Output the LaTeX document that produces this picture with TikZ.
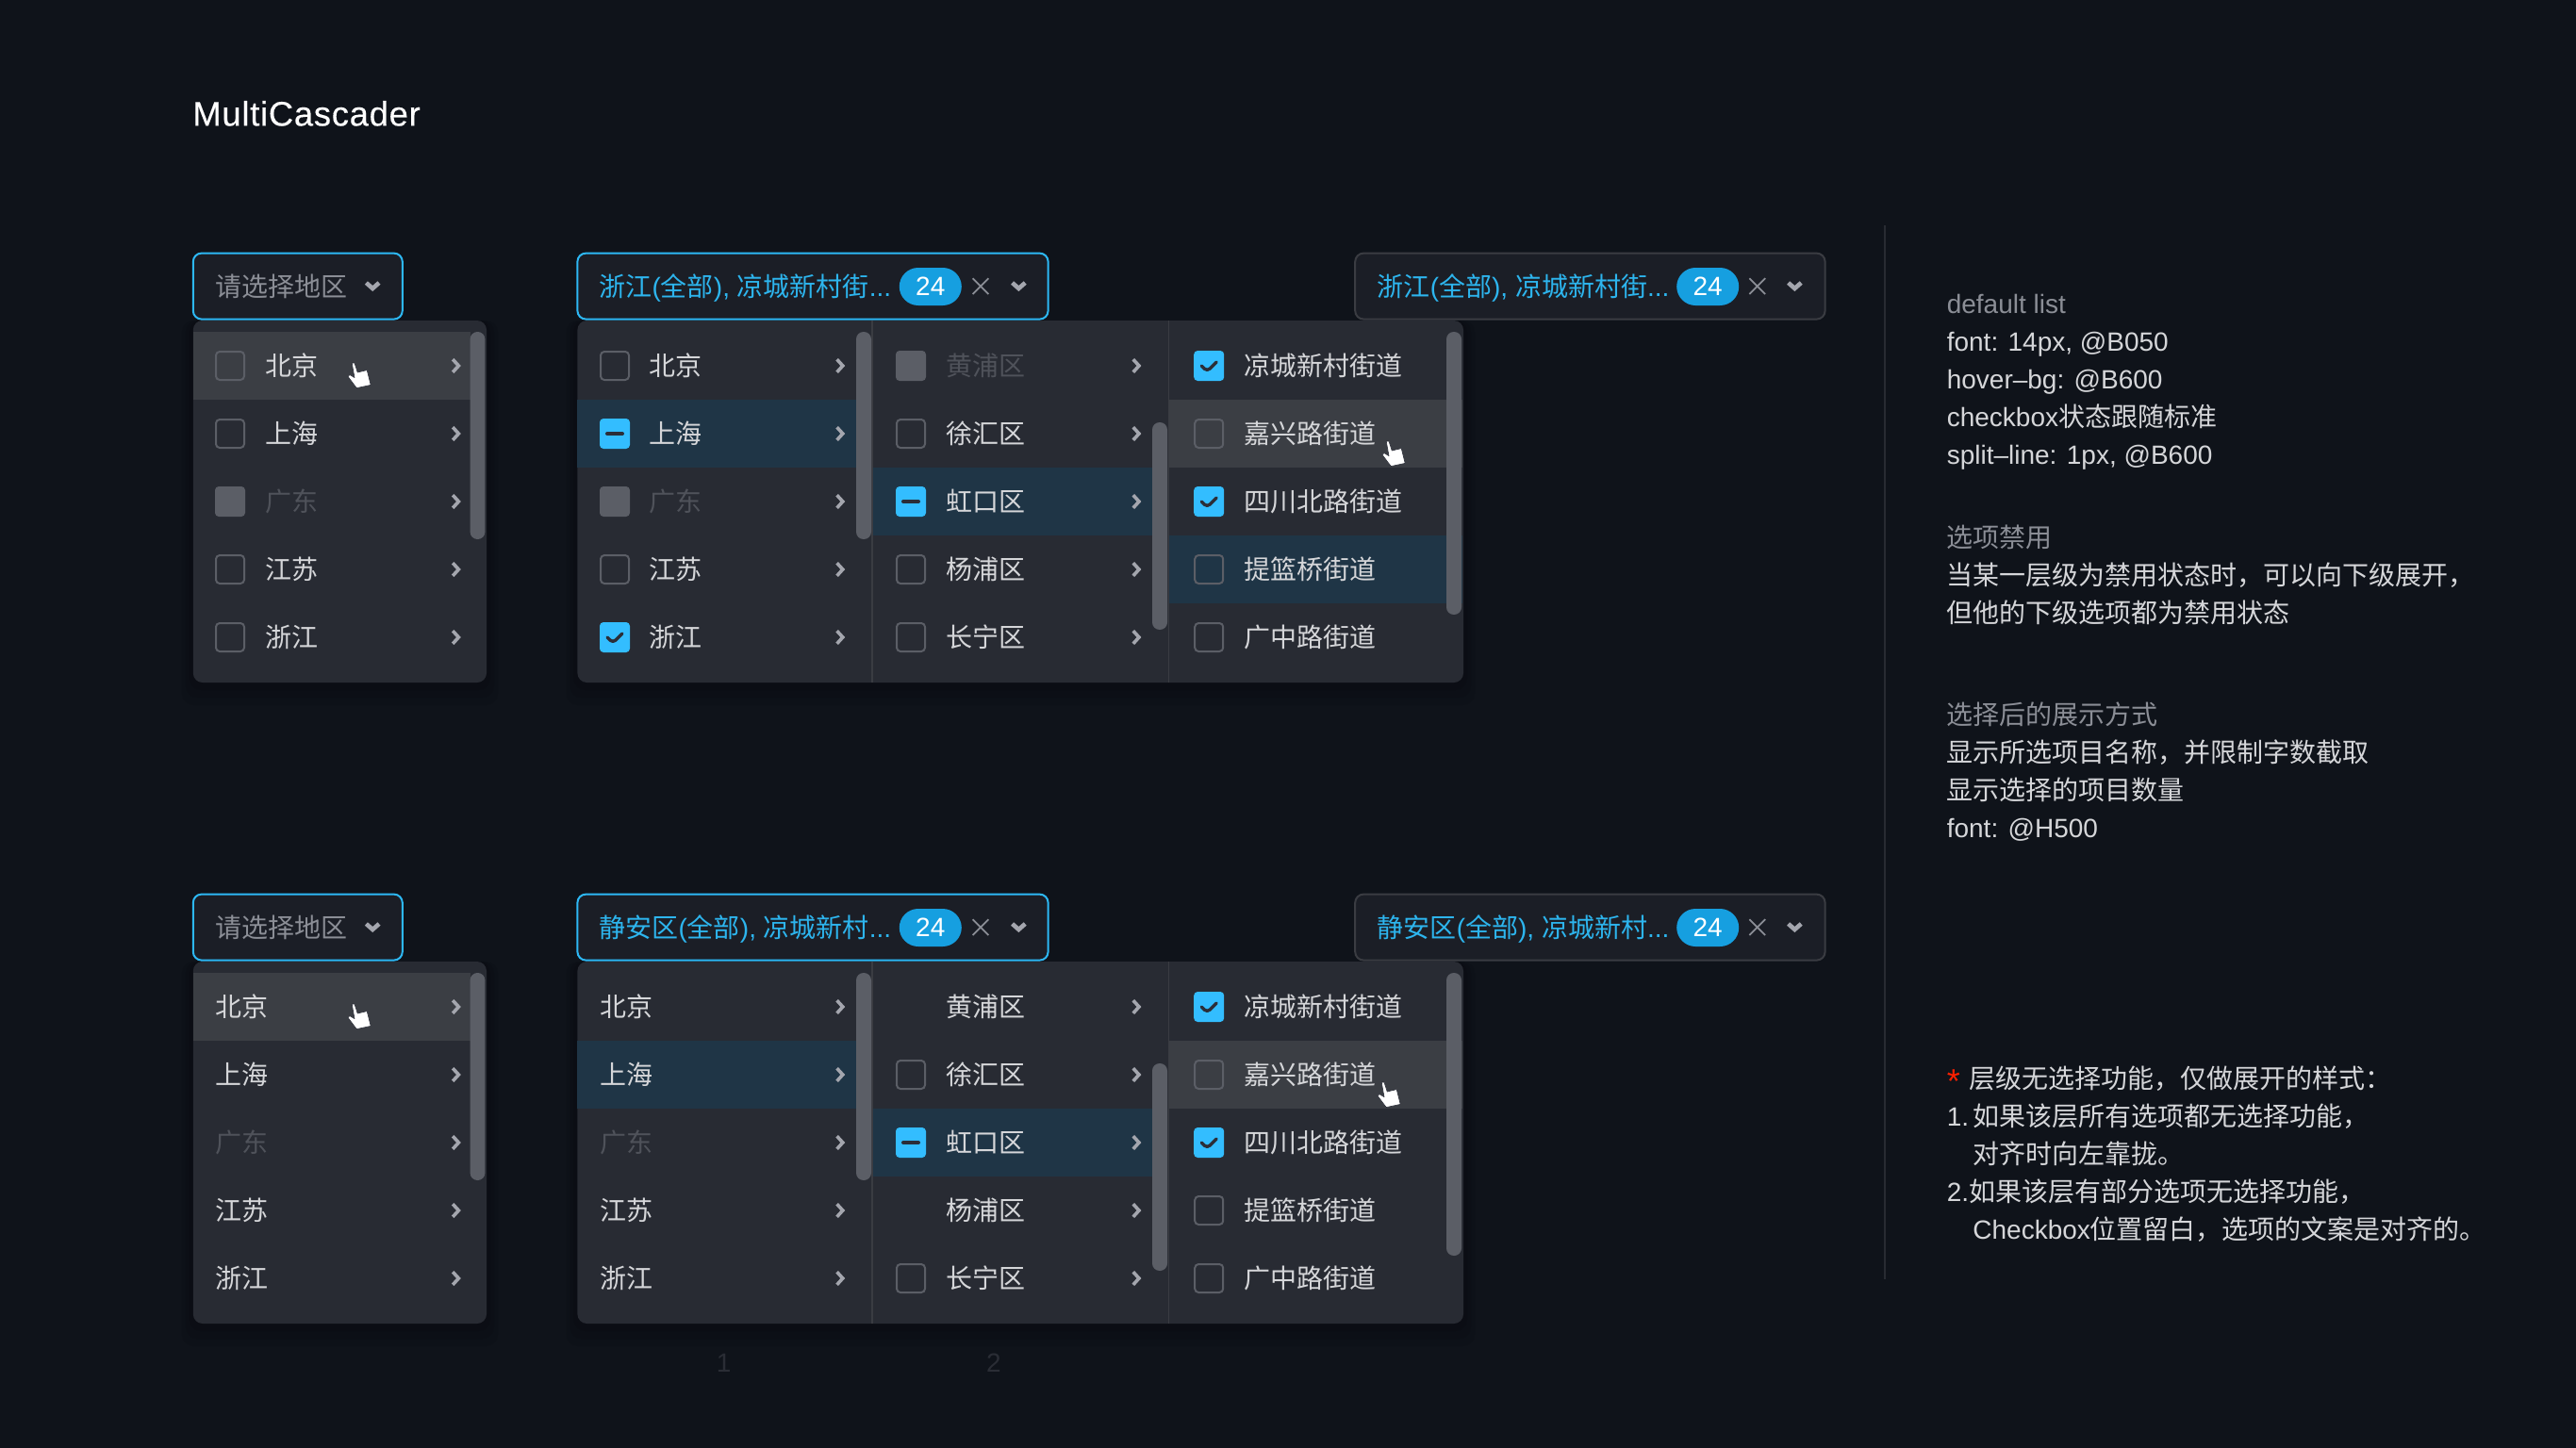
\documentclass[tikz,border=0pt]{standalone}
\usepackage{fontspec}
\setmainfont{Liberation Sans}
\newfontfamily\cjk{Noto Sans CJK SC}
\newfontfamily\titlefont{Liberation Sans}[LetterSpace=2,FakeBold=0.25]
\newcommand{\zh}[1]{{\cjk #1}}
\definecolor{pagebg}{HTML}{0F131A}
\definecolor{panelbg}{HTML}{282B33}
\definecolor{hoverbg}{HTML}{3B3E44}
\definecolor{activebg}{HTML}{1F3546}
\definecolor{selbg}{HTML}{1B1E26}
\definecolor{selblue}{HTML}{2DB8F5}
\definecolor{selgray}{HTML}{3A3C42}
\definecolor{chkblue}{HTML}{33BDFF}
\definecolor{badgeblue}{HTML}{169FE0}
\definecolor{chkline}{HTML}{5B5E66}
\definecolor{chevcol}{HTML}{A4A6AE}
\definecolor{txtcol}{HTML}{D5D6D9}
\definecolor{discol}{HTML}{4F525A}
\definecolor{graycol}{HTML}{8B8E96}
\definecolor{bluetxt}{HTML}{2DB5EE}
\definecolor{tickcol}{HTML}{2B2E38}
\definecolor{digitcol}{HTML}{2A2D35}
\tikzset{
  fs/.style={font=\fontsize{14}{20}\selectfont},
  optlabel/.style={fs,anchor=base west,inner sep=0pt,text=txtcol},
  optdis/.style={optlabel,text=discol},
  notetext/.style={optlabel},
  notehead/.style={optlabel,text=graycol},
  chkbase/.style={rectangle,rounded corners=2pt,minimum size=15pt,inner sep=0pt,outer sep=0pt},
  chkoff/.style={chkbase,draw=chkline,line width=1pt},
  chkdis/.style={chkbase,minimum size=16pt,fill=chkline},
  chkon/.style={chkbase,minimum size=16pt,fill=chkblue,path picture={
    \draw[tickcol,line width=1.7pt,line cap=round,line join=round]
      (path picture bounding box.center) ++(-4,0) -- ++(3,3) -- ++(5,-5);}},
  chkhalf/.style={chkbase,minimum size=16pt,fill=chkblue,path picture={
    \draw[tickcol,line width=2pt,line cap=round]
      (path picture bounding box.center) ++(-4,0) -- ++(8,0);}},
  selbox/.style={rectangle,rounded corners=4.5pt,anchor=north west,minimum height=35pt,
    inner sep=0pt,outer sep=0pt,fill=selbg,line width=1pt},
  badge/.style={rectangle,rounded corners=10pt,fill=badgeblue,text=white,fs,minimum width=33pt,
    minimum height=20pt,inner sep=0pt},
  seltext/.style={optlabel,text=bluetxt},
  scrollbar/.style={chkline,rounded corners=3.9pt},
  splitline/.style={draw=selgray,line width=.6pt},
  chevr/.pic={\draw[chevcol,line width=1.8pt,line join=miter] (-1.5,-3.4) -- (1.6,0) -- (-1.5,3.4);},
  chevd/.pic={\draw[chevcol,line width=2.3pt] (-3.4,-1.5) -- (0,1.5) -- (3.4,-1.5);},
  crossx/.pic={\draw[graycol,line width=.9pt] (-4.2,-4.2) -- (4.2,4.2) (-4.2,4.2) -- (4.2,-4.2);},
  handptr/.pic={\filldraw[white,draw=tickcol,line width=.3pt,line join=round]
    (-.7,0) -- (.7,0) -- (2.3,5) -- (7.3,3.8) -- (9.3,11.7) -- (1.8,13.3) -- (-2.8,7.2) -- (-1.8,6.3) -- (.7,7.8) -- cycle;}
}

\begin{document}
\begin{tikzpicture}[x=1pt,y=-1pt]
\useasboundingbox (0,0) rectangle (1366,768);
\fill[pagebg] (0,0) rectangle (1366,768);

\node[anchor=base west,inner sep=0pt,text=white,font=\fontsize{18.2}{20}\titlefont] (title) at (102,66.7) {MultiCascader};
\draw[selgray,line width=.8pt,opacity=.6] (999.6,119.5) -- (999.6,678.3);

% both groups share the same frame
\foreach \oy/\tag in {0/up,340/low}{
\begin{scope}[yshift=-\oy pt]
  \foreach \bx/\bw in {102.4/155.6,306.2/469.8}{
    \foreach \gr in {6,4,2}
      \fill[black,opacity=.07,rounded corners=6pt] (\bx-\gr,170) rectangle (\bx+\bw+\gr,362+2*\gr);
    \fill[panelbg,rounded corners=5pt] (\bx,170) rectangle (\bx+\bw,362);
  }
  \fill[hoverbg] (102.4,176) rectangle (249.5,212);
  \fill[activebg] (306.2,212) rectangle (454,248);
  \fill[activebg] (462.5,248) rectangle (611,284);
  \fill[hoverbg] (620,212) rectangle (775.5,248);
  \draw[splitline] (462.5,170) -- (462.5,362);
  \draw[splitline] (619.7,170) -- (619.7,362);
  \fill[scrollbar] (249.3,176) rectangle (257.2,286);
  \fill[scrollbar] (454,176) rectangle (462,286);
  \fill[scrollbar] (611,224) rectangle (619,334);
  \foreach \cy in {194,230,266,302,338}{
    \pic at (241.6,\cy) {chevr};
    \pic at (445.3,\cy) {chevr};
    \pic at (602.4,\cy) {chevr};
  }
  % selects
  \node[selbox,draw=selblue,minimum width=111pt] (sel\tag a) at (102.4,134.3) {};
  \node[selbox,draw=selblue,minimum width=249.6pt] (sel\tag b) at (306.2,134.3) {};
  \node[selbox,draw=selgray,minimum width=249.2pt] (sel\tag c) at (718.6,134.3) {};
  \node[optlabel,text=graycol] (ph\tag) at (113.9,157.1) {\zh{请选择地区}};
  \pic at (197.6,151.5) {chevd};
  \node[badge] (badge\tag b) at (493.4,152) {24};
  \node[badge] (badge\tag c) at (905.6,152) {24};
  \pic at (520,151.8) {crossx};
  \pic at (540.2,151.5) {chevd};
  \pic at (931.9,151.8) {crossx};
  \pic at (951.7,151.5) {chevd};
  \pic at (187.3,192.5) {handptr};
\end{scope}
}

% rows that differ
\fill[activebg] (620,284) rectangle (775.5,320);
\fill[scrollbar] (767,176) rectangle (775,326);
\fill[scrollbar] (767,516) rectangle (775,666);
\pic at (735.8,234) {handptr};
\pic at (733.3,574) {handptr};

\node[seltext] (seltxta) at (317.6,157.1) {\zh{浙江}(\zh{全部}), \zh{凉城新村街}...};
\node[seltext] (seltxtb) at (730.2,157.1) {\zh{浙江}(\zh{全部}), \zh{凉城新村街}...};
\node[seltext] (seltxtc) at (317.6,497.1) {\zh{静安区}(\zh{全部}), \zh{凉城新村}...};
\node[seltext] (seltxtd) at (730.2,497.1) {\zh{静安区}(\zh{全部}), \zh{凉城新村}...};

% check boxes, first group and last column below
\foreach \nm/\cy/\kind in {1/194/chkoff,2/230/chkoff,3/266/chkdis,4/302/chkoff,5/338/chkoff}
  \node[\kind] (pa\nm) at (122,\cy) {};
\foreach \nm/\cy/\kind in {1/194/chkoff,2/230/chkhalf,3/266/chkdis,4/302/chkoff,5/338/chkon}
  \node[\kind] (pb\nm) at (326,\cy) {};
\foreach \nm/\cy/\kind in {1/194/chkdis,2/230/chkoff,3/266/chkhalf,4/302/chkoff,5/338/chkoff}
  \node[\kind] (pc\nm) at (483,\cy) {};
\foreach \nm/\cy/\kind in {1/194/chkon,2/230/chkoff,3/266/chkon,4/302/chkoff,5/338/chkoff}
  \node[\kind] (pd\nm) at (641.1,\cy) {};
\foreach \nm/\cy/\kind in {2/570/chkoff,3/606/chkhalf,5/678/chkoff}
  \node[\kind] (qc\nm) at (483,\cy) {};
\foreach \nm/\cy/\kind in {1/534/chkon,2/570/chkoff,3/606/chkon,4/642/chkoff,5/678/chkoff}
  \node[\kind] (qd\nm) at (641.1,\cy) {};

% labels
\foreach \xx/\pre in {140.3/la,344.1/lb}
  \foreach \nm/\cy/\lab/\sty in {1/194/北京/optlabel,2/230/上海/optlabel,3/266/广东/optdis,4/302/江苏/optlabel,5/338/浙江/optlabel}
    \node[\sty] (\pre\nm) at (\xx,\cy+5.2) {\zh{\lab}};
\foreach \xx/\pre in {113.9/ma,318/mb}
  \foreach \nm/\cy/\lab/\sty in {1/534/北京/optlabel,2/570/上海/optlabel,3/606/广东/optdis,4/642/江苏/optlabel,5/678/浙江/optlabel}
    \node[\sty] (\pre\nm) at (\xx,\cy+5.2) {\zh{\lab}};
\foreach \nm/\cy/\lab/\sty in {1/194/黄浦区/optdis,2/230/徐汇区/optlabel,3/266/虹口区/optlabel,4/302/杨浦区/optlabel,5/338/长宁区/optlabel}
  \node[\sty] (lc\nm) at (501.3,\cy+5.2) {\zh{\lab}};
\foreach \nm/\cy/\lab in {1/534/黄浦区,2/570/徐汇区,3/606/虹口区,4/642/杨浦区,5/678/长宁区}
  \node[optlabel] (mc\nm) at (501.3,\cy+5.2) {\zh{\lab}};
\foreach \oy/\pre in {0/ld,340/md}
  \foreach \nm/\cy/\lab in {1/194/凉城新村街道,2/230/嘉兴路街道,3/266/四川北路街道,4/302/提篮桥街道,5/338/广中路街道}
    \node[optlabel] (\pre\nm) at (659.3,\cy+\oy+5.2) {\zh{\lab}};

% loose digits under the lower panel
\node[fs,text=digitcol] (digita) at (383.8,723) {1};
\node[fs,text=digitcol] (digitb) at (527,723) {2};

% notes on the right
\foreach \nm/\yy/\sty/\lab in {
  a/166/notehead/{default list},
  b/186/notetext/{font: 14px, @B050},
  c/206/notetext/{hover–bg: @B600},
  d/226/notetext/{checkbox\zh{状态跟随标准}},
  e/246/notetext/{split–line: 1px, @B600},
  f/290.3/notehead/{\zh{选项禁用}},
  g/310.3/notetext/{\zh{当某一层级为禁用状态时，可以向下级展开，}},
  h/330.3/notetext/{\zh{但他的下级选项都为禁用状态}},
  i/384/notehead/{\zh{选择后的展示方式}},
  j/404/notetext/{\zh{显示所选项目名称，并限制字数截取}},
  k/424/notetext/{\zh{显示选择的项目数量}},
  l/444/notetext/{font: @H500},
  m/577.2/notetext/{\makebox[11.6pt][l]{\textcolor{red!75!orange}{\fontsize{18}{20}\selectfont\raisebox{-2.5pt}{*}}}\zh{层级无选择功能，仅做展开的样式：}},
  n/597.2/notetext/{\makebox[14pt][l]{1.}\zh{如果该层所有选项都无选择功能，}},
  o/637.2/notetext/{\makebox[12pt][l]{2.}\zh{如果该层有部分选项无选择功能，}}}
  \node[\sty] (note\nm) at (1032.2,\yy) {\lab};
\node[notetext] (notep) at (1046,617.2) {\zh{对齐时向左靠拢。}};
\node[notetext] (noteq) at (1046,657.2) {Checkbox\zh{位置留白，选项的文案是对齐的。}};
\end{tikzpicture}
\end{document}
